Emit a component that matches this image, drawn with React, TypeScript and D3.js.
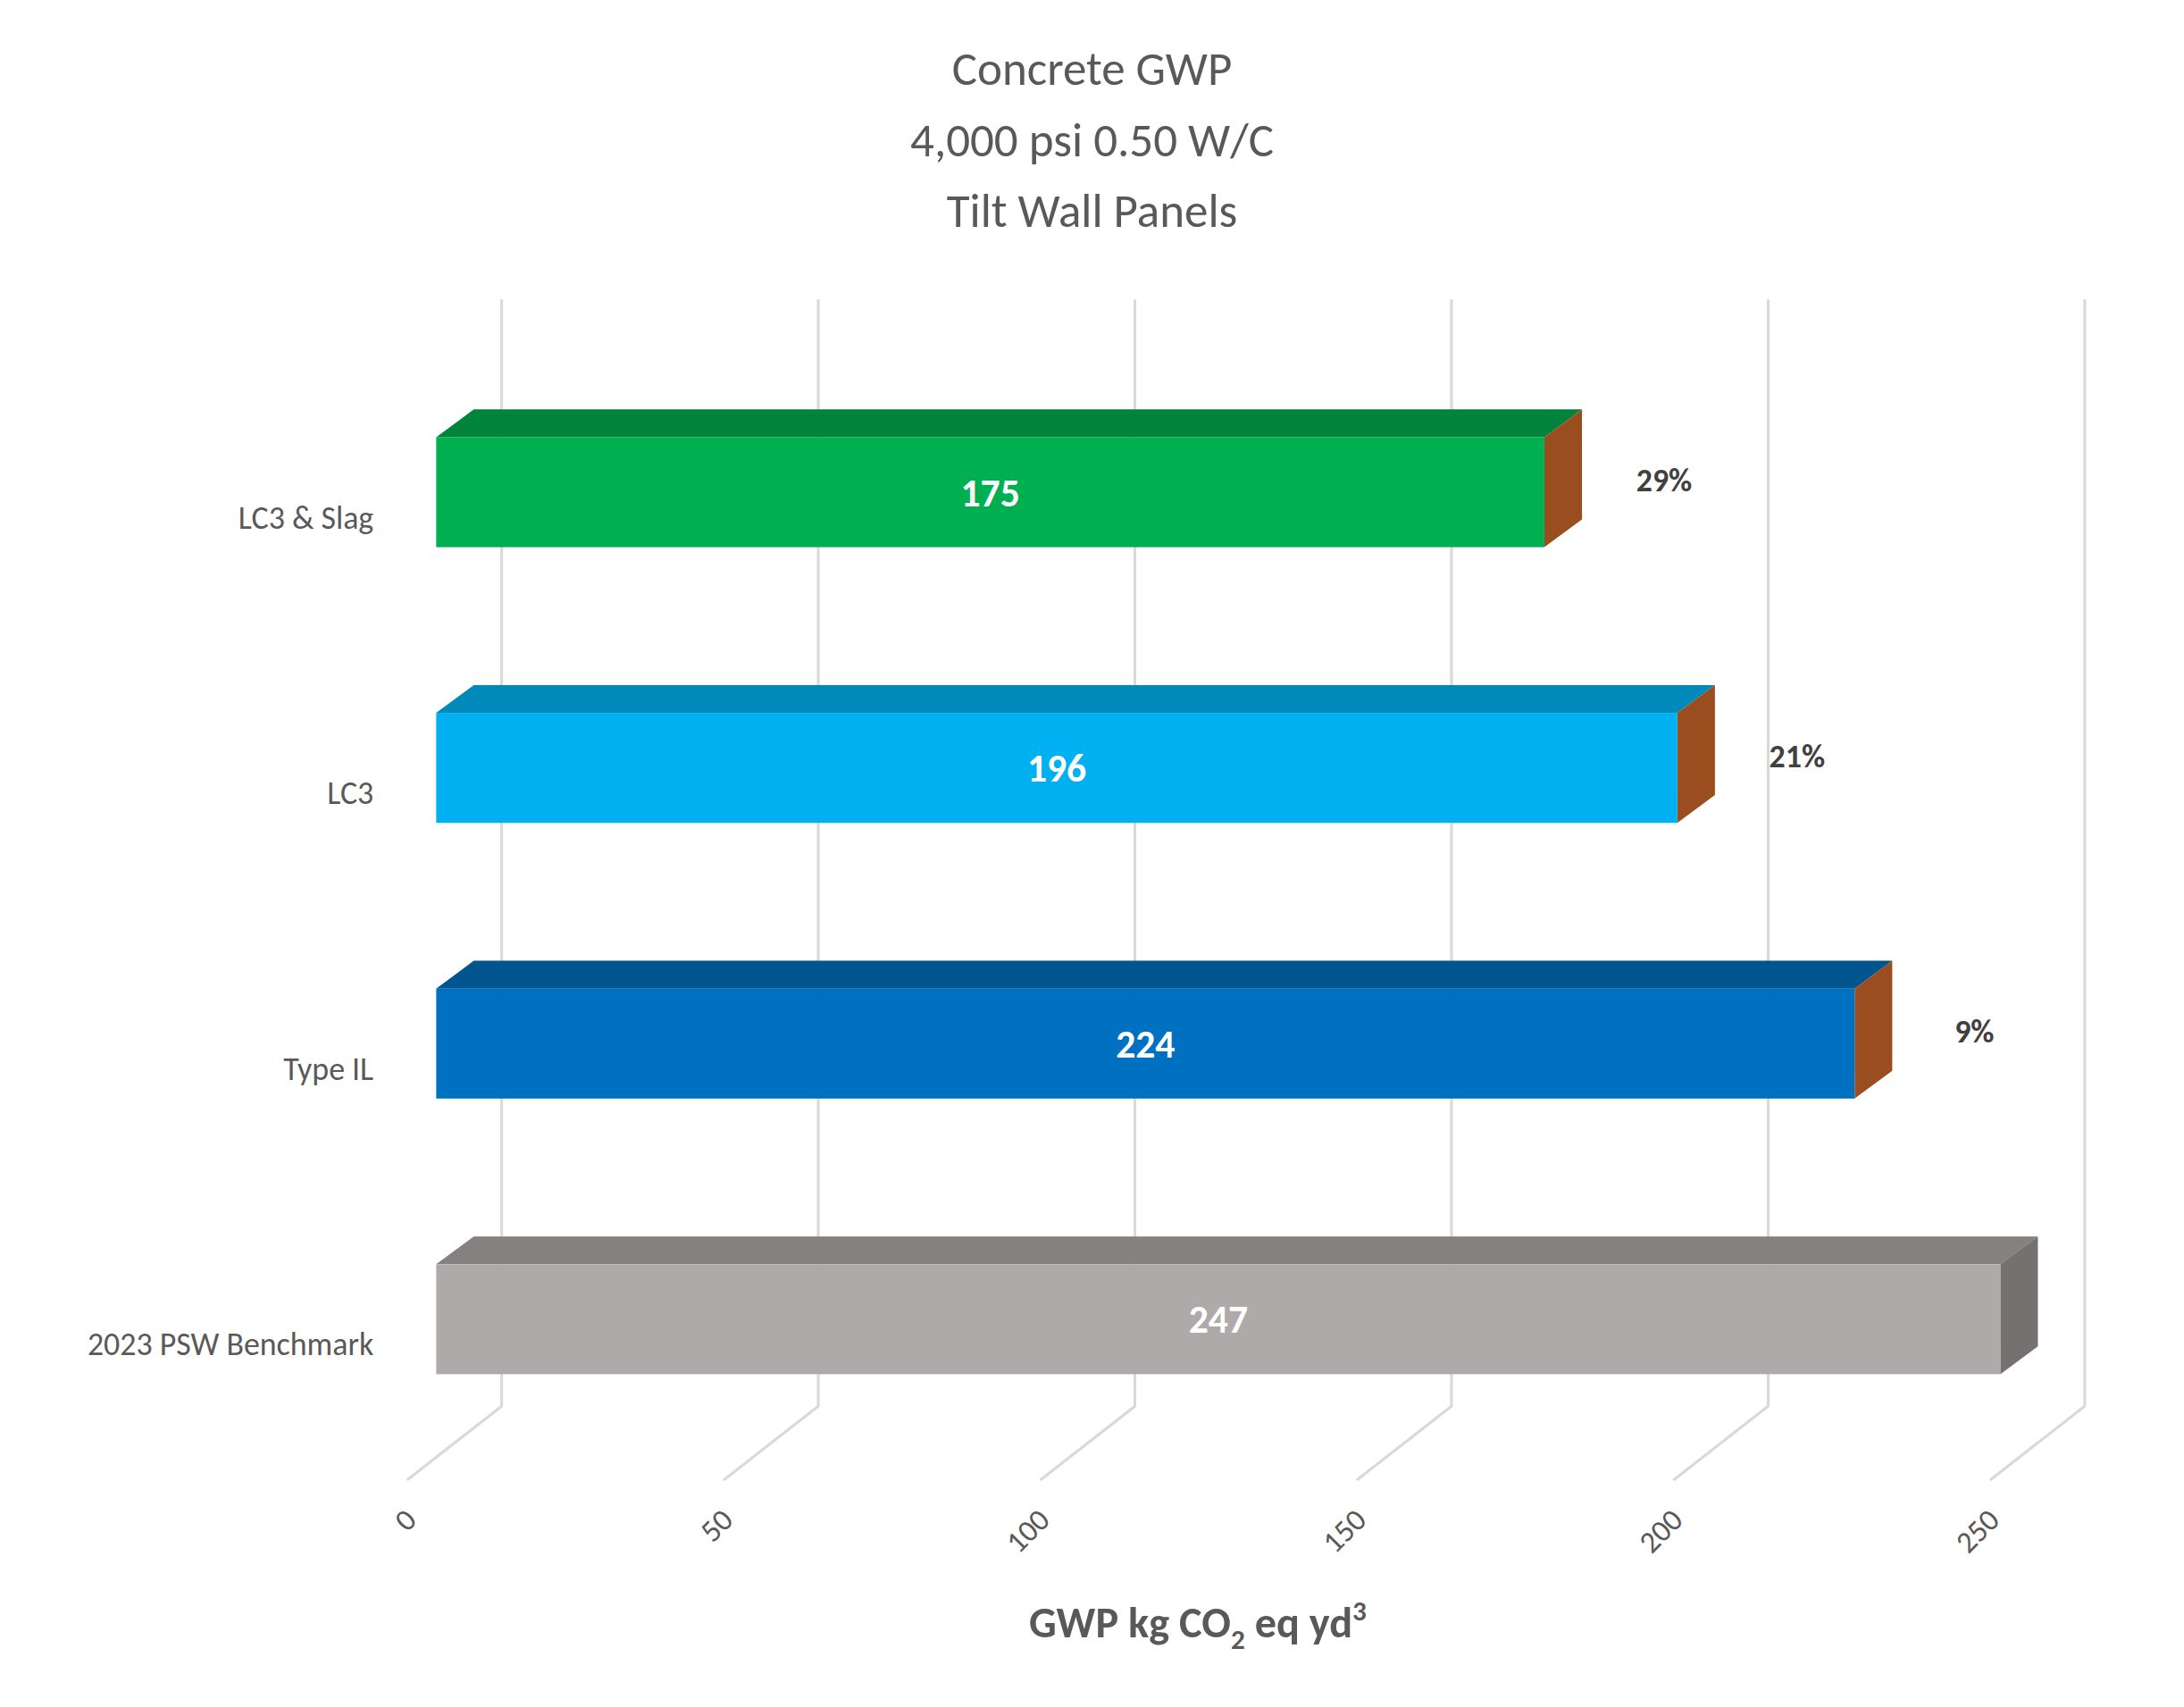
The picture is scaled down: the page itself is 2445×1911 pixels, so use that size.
import * as d3 from 'd3'

const categories = ['LC3 & Slag', 'LC3', 'Type IL', '2023 PSW Benchmark']
const values = [175, 196, 224, 247]
const reductions = ['29%', '21%', '9%', '']
const xTicks = [0, 50, 100, 150, 200, 250]
const titleLines = ['Concrete GWP', '4,000 psi 0.50 W/C', 'Tilt Wall Panels']

const fronts = ['#00B050', '#00B0F0', '#0070C0', '#AEAAAA']
const tops = ['#00843C', '#0089BB', '#00558F', '#858181']
const sides = ['#9A4E1F', '#9A4E1F', '#9A4E1F', '#767171']

export default function App() {
  const W = 1568
  const H = 1226
  const x = d3.scaleLinear().domain([0, 250]).range([313, 1450])
  // top edge of each bar's front face
  const y = d3.scalePoint().domain(categories).range([314, 908])
  const bh = 79
  const dx = 27
  const dy = 20
  const wallDx = 47
  const floorDx = -21
  const floorDy = 53
  const gridTop = 215
  const gridBot = 1010

  return (
    <svg
      width={2445}
      height={1911}
      viewBox={`0 0 ${W} ${H}`}
      style={{ display: 'block', margin: -8 }}
      fontFamily="Calibri, Carlito, 'Open Sans', sans-serif"
    >
      <rect x={2} y={2} width={W - 4} height={H - 4} fill="#fff" stroke="#d9d9d9" strokeWidth={2} />
      {titleLines.map((t, i) => (
        <text key={t} x={784} y={61 + i * 51} textAnchor="middle" fontSize={34} fill="#595959">
          {t}
        </text>
      ))}
      <g stroke="#d9d9d9" strokeWidth={2} fill="none">
        {xTicks.map((t) => (
          <path
            key={t}
            d={`M${x(t) + wallDx},${gridTop}V${gridBot}L${x(t) + floorDx},${gridBot + floorDy}`}
          />
        ))}
      </g>
      {xTicks.map((t) => (
        <text
          key={t}
          transform={`translate(${x(t) + floorDx + 8},${gridBot + floorDy + 30}) rotate(-45)`}
          textAnchor="end"
          fontSize={22}
          fill="#595959"
        >
          {t}
        </text>
      ))}
      {categories.map((c, i) => {
        const y0 = y(c)!
        const x0 = x(0)
        const x1 = x(values[i])
        return (
          <g key={c}>
            <path d={`M${x0},${y0}L${x0 + dx},${y0 - dy}H${x1 + dx}L${x1},${y0}Z`} fill={tops[i]} />
            <path d={`M${x1},${y0}L${x1 + dx},${y0 - dy}V${y0 + bh - dy}L${x1},${y0 + bh}Z`} fill={sides[i]} />
            <rect x={x0} y={y0} width={x1 - x0} height={bh} fill={fronts[i]} />
            <text x={(x0 + x1) / 2} y={y0 + bh / 2 + 10} textAnchor="middle" fontSize={28} fontWeight="bold" fill="#fff">
              {values[i]}
            </text>
            <text x={268} y={y0 + bh / 2 + 26} textAnchor="end" fontSize={23} fill="#595959">
              {c}
            </text>
            {reductions[i] && (
              <text x={x1 + 86} y={y0 + 39} textAnchor="middle" fontSize={23} fontWeight="bold" fill="#404040">
                {reductions[i]}
              </text>
            )}
          </g>
        )
      })}
      <text x={860} y={1176} textAnchor="middle" fontSize={31} fontWeight="bold" fill="#595959">
        GWP kg CO<tspan fontSize={20} dy={8}>2</tspan>
        <tspan dy={-8}> eq yd</tspan>
        <tspan fontSize={20} dy={-12}>3</tspan>
      </text>
    </svg>
  )
}
